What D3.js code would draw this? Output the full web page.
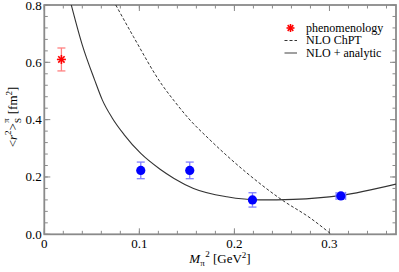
<!DOCTYPE html>
<html>
<head>
<meta charset="utf-8">
<script src="https://cdn.jsdelivr.net/npm/d3@7"></script>
<style>
  body { margin: 0; background: #fff; }
</style>
</head>
<body>
<div id="chart"></div>
<script>
// tick values and labels
var xTicks = [0, 0.1, 0.2, 0.3];
var xTickLabels = ["0", "0.1", "0.2", "0.3"];
var yTicks = [0, 0.2, 0.4, 0.6, 0.8];
var yTickLabels = ["0.0", "0.2", "0.4", "0.6", "0.8"];

// phenomenology point
var phenoX = [0.018];
var phenoY = [0.61];
var phenoErr = [0.04];

// lattice points
var latX = [0.1015, 0.153, 0.219, 0.312];
var latY = [0.223, 0.223, 0.12, 0.134];
var latErrY = [0.029, 0.029, 0.025, 0.010];
var latErrX = [0, 0, 0, 0.005];

// NLO ChPT (dashed)
var chptX = [0.0752, 0.0937, 0.1242, 0.1358, 0.1516, 0.1744, 0.2095, 0.25, 0.2797, 0.302];
var chptY = [0.8, 0.69, 0.52, 0.469, 0.405, 0.329, 0.224, 0.12, 0.057, 0.0];

// NLO + analytic (solid)
var fitX = [0.0284, 0.04, 0.053, 0.061, 0.0716, 0.0839, 0.1015, 0.1218, 0.1365, 0.157, 0.192, 0.227, 0.262, 0.311, 0.37];
var fitY = [0.8, 0.66, 0.538, 0.469, 0.405, 0.348, 0.282, 0.227, 0.195, 0.160, 0.131, 0.12, 0.122, 0.135, 0.175];

var legendNames = ["phenomenology", "NLO ChPT", "NLO + analytic"];

var w = 399, h = 272;
var padL = 44.3, padR = 396, padT = 5, padB = 234.3;
var axisColor = "#8a8a8a";
var serif = "'Liberation Serif', 'Times New Roman', 'DejaVu Serif', serif";

var xScale = d3.scaleLinear().domain([0, 0.37]).range([padL, padR]);
var yScale = d3.scaleLinear().domain([0, 0.8]).range([padB, padT]);

var svg = d3.select("#chart")
    .append("svg")
    .attr("width", w)
    .attr("height", h)
    .style("font-family", serif);

svg.append("clipPath").attr("id", "plotclip")
    .append("rect")
    .attr("x", padL).attr("y", padT)
    .attr("width", padR - padL).attr("height", padB - padT);

// inward ticks on all four sides
var xMinor = d3.range(0, 0.3701, 0.02);
var yMinor = d3.range(0, 0.8001, 0.04);

function tickSet(g, vals, len, side) {
    var horiz = (side == "b" || side == "t");
    g.selectAll(null)
        .data(vals)
        .enter()
        .append("line")
        .attr("x1", function(d) { return horiz ? xScale(d) : (side == "l" ? padL : padR); })
        .attr("x2", function(d) { return horiz ? xScale(d) : (side == "l" ? padL + len : padR - len); })
        .attr("y1", function(d) { return horiz ? (side == "b" ? padB : padT) : yScale(d); })
        .attr("y2", function(d) { return horiz ? (side == "b" ? padB - len : padT + len) : yScale(d); })
        .attr("stroke", axisColor)
        .attr("stroke-width", 1);
}

var ticks = svg.append("g");
["b", "t"].forEach(function(s) {
    tickSet(ticks, xMinor, 3.5, s);
    tickSet(ticks, xTicks, 6, s);
});
["l", "r"].forEach(function(s) {
    tickSet(ticks, yMinor, 3.5, s);
    tickSet(ticks, yTicks, 6, s);
});

svg.append("rect")
    .attr("x", padL).attr("y", padT)
    .attr("width", padR - padL).attr("height", padB - padT)
    .attr("fill", "none")
    .attr("stroke", axisColor)
    .attr("stroke-width", 1.8);

// tick labels
svg.selectAll(null)
    .data(xTicks)
    .enter()
    .append("text")
    .attr("x", function(d) { return xScale(d); })
    .attr("y", padB + 13.5)
    .attr("text-anchor", "middle")
    .style("font-size", "13px")
    .text(function(d, i) { return xTickLabels[i]; });

svg.selectAll(null)
    .data(yTicks)
    .enter()
    .append("text")
    .attr("x", padL - 2.5)
    .attr("y", function(d) { return yScale(d) + 4.5; })
    .attr("text-anchor", "end")
    .style("font-size", "13px")
    .text(function(d, i) { return yTickLabels[i]; });

// axis titles
var xt = svg.append("text")
    .attr("x", 220)
    .attr("y", 263)
    .attr("text-anchor", "middle")
    .style("font-size", "13px");
xt.append("tspan").style("font-style", "italic").text("M");
xt.append("tspan").attr("dy", 3).style("font-size", "9px").text("\u03c0");
xt.append("tspan").attr("dy", -9).attr("dx", 0.5).style("font-size", "9px").text("2");
xt.append("tspan").attr("dy", 6).text(" [GeV");
xt.append("tspan").attr("dy", -5).style("font-size", "9px").text("2");
xt.append("tspan").attr("dy", 5).text("]");

var yt = svg.append("text")
    .attr("transform", "translate(17,117) rotate(-90)")
    .attr("text-anchor", "middle")
    .style("font-size", "13px");
yt.append("tspan").text("<");
yt.append("tspan").style("font-style", "italic").text("r");
yt.append("tspan").attr("dy", -6).style("font-size", "9px").text("2");
yt.append("tspan").attr("dy", 6).text(">");
yt.append("tspan").attr("dy", 4).style("font-size", "9px").text("S");
yt.append("tspan").attr("dy", -12).attr("dx", -5).style("font-size", "9px").text("\u03c0");
yt.append("tspan").attr("dy", 8).attr("dx", 1).text(" [fm");
yt.append("tspan").attr("dy", -5).style("font-size", "9px").text("2");
yt.append("tspan").attr("dy", 5).text("]");

// curves
var plot = svg.append("g").attr("clip-path", "url(#plotclip)");

var line = d3.line()
    .x(function(d) { return xScale(d[0]); })
    .y(function(d) { return yScale(d[1]); })
    .curve(d3.curveMonotoneX);

plot.append("path")
    .datum(d3.zip(chptX, chptY))
    .attr("d", line)
    .attr("fill", "none")
    .attr("stroke", "#333")
    .attr("stroke-width", 1)
    .attr("stroke-dasharray", "3,2");

plot.append("path")
    .datum(d3.zip(fitX, fitY))
    .attr("d", line)
    .attr("fill", "none")
    .attr("stroke", "#333")
    .attr("stroke-width", 1.1);

// error bars
function errorBars(g, xs, ys, ey, ex, color) {
    xs.forEach(function(x, i) {
        var cx = xScale(x), cy = yScale(ys[i]);
        var y1 = yScale(ys[i] + ey[i]), y2 = yScale(ys[i] - ey[i]);
        g.append("line").attr("x1", cx).attr("x2", cx).attr("y1", y1).attr("y2", y2)
            .attr("stroke", color).attr("stroke-width", 1.3);
        [y1, y2].forEach(function(yy) {
            g.append("line").attr("x1", cx - 4).attr("x2", cx + 4).attr("y1", yy).attr("y2", yy)
                .attr("stroke", color).attr("stroke-width", 1.3);
        });
        if (ex[i] > 0) {
            var x1 = xScale(x - ex[i]), x2 = xScale(x + ex[i]);
            g.append("line").attr("x1", x1).attr("x2", x2).attr("y1", cy).attr("y2", cy)
                .attr("stroke", color).attr("stroke-width", 1.3);
            [x1, x2].forEach(function(xx) {
                g.append("line").attr("x1", xx).attr("x2", xx).attr("y1", cy - 4).attr("y2", cy + 4)
                    .attr("stroke", color).attr("stroke-width", 1.3);
            });
        }
    });
}

var marks = svg.append("g");
errorBars(marks, phenoX, phenoY, phenoErr, [0], "#ff8080");
errorBars(marks, latX, latY, latErrY, latErrX, "#8080ff");

marks.selectAll(null)
    .data(latX)
    .enter()
    .append("circle")
    .attr("cx", function(d) { return xScale(d); })
    .attr("cy", function(d, i) { return yScale(latY[i]); })
    .attr("r", 4.6)
    .attr("fill", "#0000ff");

// asterisk marker, four crossed strokes
function asterisk(g, cx, cy, s) {
    var r = s / 2;
    [0, 45, 90, 135].forEach(function(a) {
        var dx = r * Math.cos(a * Math.PI / 180), dy = r * Math.sin(a * Math.PI / 180);
        g.append("line")
            .attr("x1", cx - dx).attr("x2", cx + dx)
            .attr("y1", cy - dy).attr("y2", cy + dy)
            .attr("stroke", "#ff0000")
            .attr("stroke-width", 1.6);
    });
}

phenoX.forEach(function(x, i) {
    asterisk(marks, xScale(x), yScale(phenoY[i]), 9);
});

// legend
var legY = [31.5, 44, 56.5];
asterisk(svg, 290.5, legY[0] - 3.5, 8);
svg.append("line")
    .attr("x1", 284.5).attr("x2", 297).attr("y1", legY[1] - 3.5).attr("y2", legY[1] - 3.5)
    .attr("stroke", "#333").attr("stroke-width", 1).attr("stroke-dasharray", "3,2");
svg.append("line")
    .attr("x1", 284.5).attr("x2", 297).attr("y1", legY[2] - 3.5).attr("y2", legY[2] - 3.5)
    .attr("stroke", "#777").attr("stroke-width", 1.4);

svg.selectAll(null)
    .data(legendNames)
    .enter()
    .append("text")
    .attr("x", 306)
    .attr("y", function(d, i) { return legY[i]; })
    .style("font-size", "12px")
    .text(function(d) { return d; });
</script>
</body>
</html>
